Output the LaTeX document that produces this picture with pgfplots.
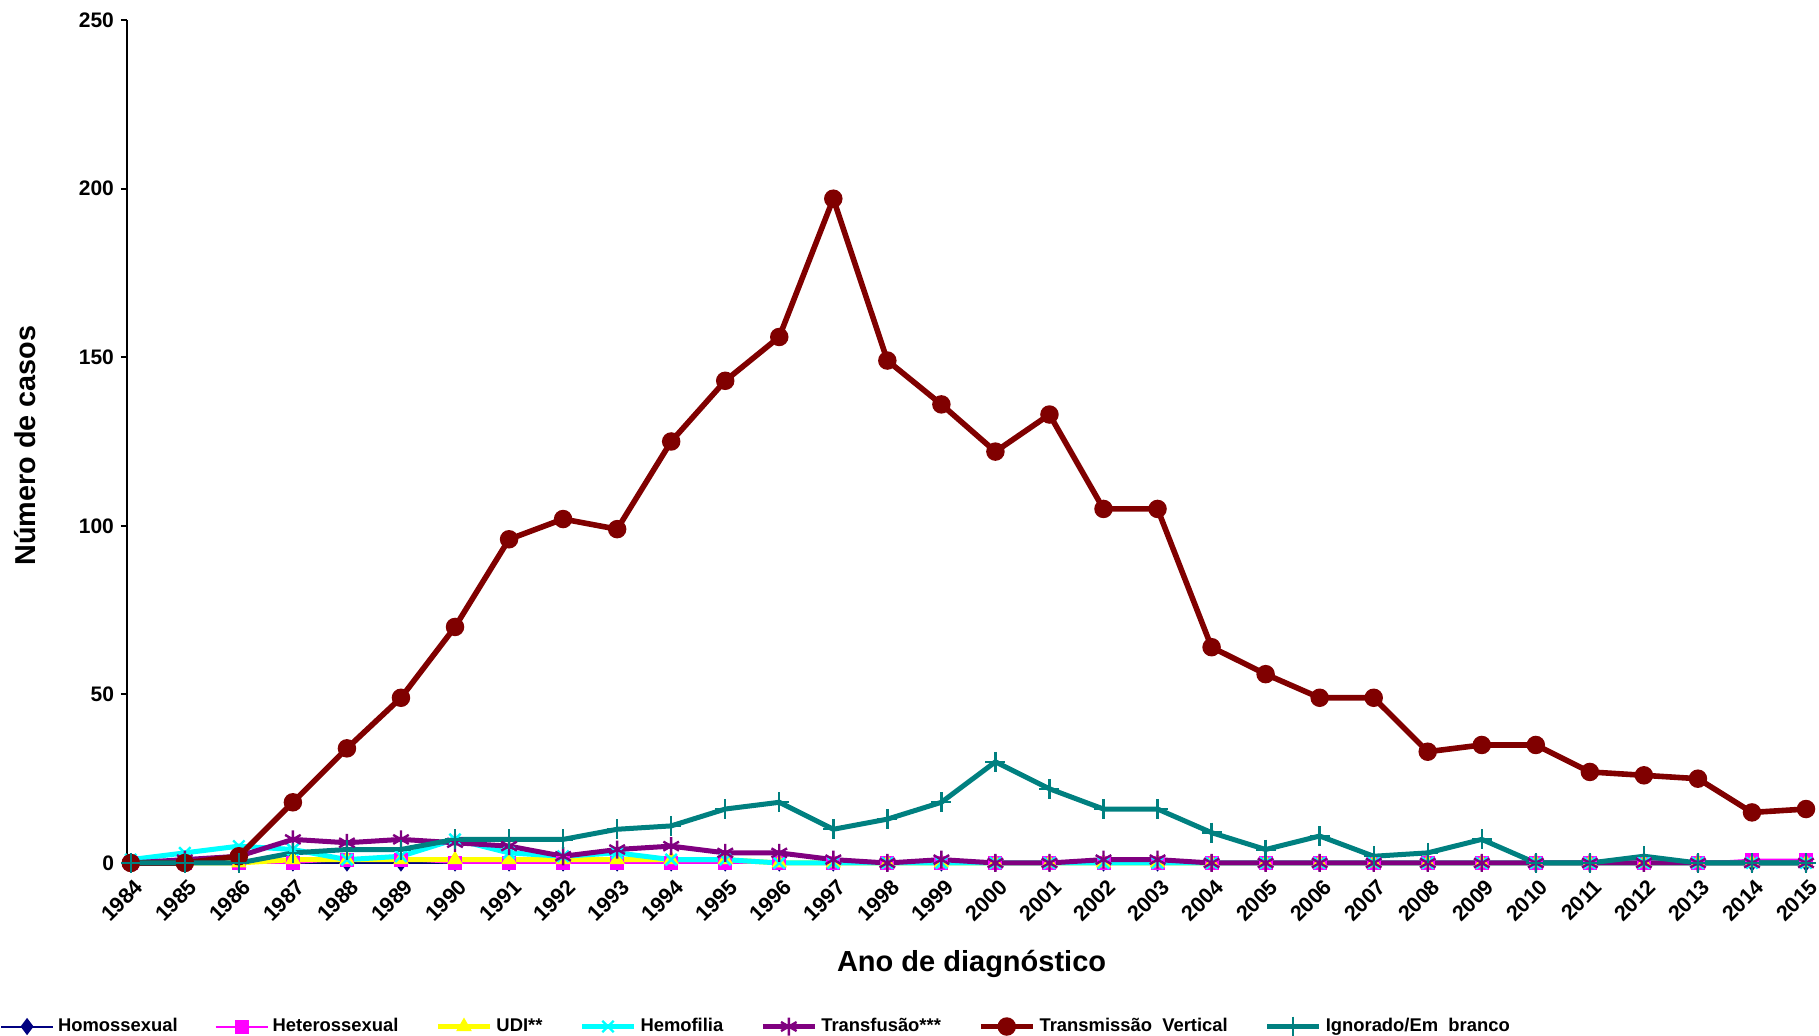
\documentclass[border=0pt]{standalone}
\usepackage{pgfplots}
\pgfplotsset{compat=1.18}
\usepackage{pgfplotstable}
\usepackage{fontspec}
\setmainfont{Liberation Sans}
\definecolor{cNavy}{HTML}{000080}
\definecolor{cMag}{HTML}{FF00FF}
\definecolor{cYel}{HTML}{FFFF00}
\definecolor{cCya}{HTML}{00FFFF}
\definecolor{cPur}{HTML}{800080}
\definecolor{cRed}{HTML}{800000}
\definecolor{cTeal}{HTML}{008080}
\pgfplotstableread{
year homo hetero udi hemo transf vert ign
1984 0 0 0 1 0 0 0
1985 0 0 0 3 1 0 0
1986 0 0 0 5 2 2 0
1987 0 0 1 4 7 18 3
1988 0 1 1 1 6 34 4
1989 0 1 1 2 7 49 4
1990 0 0 1 7 6 70 7
1991 0 0 1 3 5 96 7
1992 0 0 1 2 2 102 7
1993 0 0 1 3 4 99 10
1994 0 0 1 1 5 125 11
1995 0 0 1 1 3 143 16
1996 0 0 0 0 3 156 18
1997 0 0 0 0 1 197 10
1998 0 0 0 0 0 149 13
1999 0 0 0 0 1 136 18
2000 0 0 0 0 0 122 30
2001 0 0 0 0 0 133 22
2002 0 0 0 0 1 105 16
2003 0 0 0 0 1 105 16
2004 0 0 0 0 0 64 9
2005 0 0 0 0 0 56 4
2006 0 0 0 0 0 49 8
2007 0 0 0 0 0 49 2
2008 0 0 0 0 0 33 3
2009 0 0 0 0 0 35 7
2010 0 0 0 0 0 35 0
2011 0 0 0 0 0 27 0
2012 0 0 0 0 0 26 2
2013 0 0 0 0 0 25 0
2014 0 1 0 0 0 15 0
2015 0 1 0 0 0 16 0
}\data
\begin{document}
\begin{tikzpicture}
\useasboundingbox (-63.5pt,-86.5pt) rectangle (846pt,431.5pt);
\begin{axis}[
  scale only axis, width=839.5pt, height=421.5pt,
  at={(0,0)}, anchor=south west,
  xmin=1983.93, xmax=2015, ymin=0, ymax=250,
  clip=false,
  axis y line*=left, axis x line*=bottom,
  x axis line style={draw=none},
  y axis line style={line width=1.2pt},
  xtick={1984,...,2015}, ytick={0,50,...,250},
  xtick style={draw=none},
  ytick style={line width=1pt, black},
  tick align=outside, major tick length=3pt,
  /pgf/number format/.cd, 1000 sep={}, assume math mode=true, /pgfplots/.cd,
  xticklabel style={rotate=45, anchor=north east, font=\bfseries\fontsize{10.8}{12}\selectfont, inner sep=1pt, yshift=-3pt, xshift=-1pt},
  yticklabel style={font=\bfseries\fontsize{10.5}{12}\selectfont},
  xlabel={Ano de diagnóstico},
  ylabel={Número de casos},
  xlabel style={font=\bfseries\fontsize{14.5}{16}\selectfont, at={(axis description cs:0.503,-0.12)}, anchor=center},
  ylabel style={font=\bfseries\fontsize{14.4}{16}\selectfont, at={(axis description cs:-0.0607,0.495)}, anchor=center},
  legend columns=7,
  legend style={draw=none, fill=none, inner sep=0pt, outer sep=0pt,
    at={(axis description cs:-0.0756,-0.194)}, anchor=west,
    font=\bfseries\fontsize{9.2}{11}\selectfont,
    /tikz/every even column/.append style={column sep=16.5pt}},
  legend image code/.code={\draw[mark repeat=2,mark phase=2,#1] plot coordinates {(0pt,0pt) (13pt,0pt) (26pt,0pt)};},
]
\addplot[color=cNavy, line width=1pt, mark=diamond*, mark size=3.5pt, mark options={solid}] table[x=year,y=homo]{\data};
\addlegendentry{Homossexual}
\addplot[color=cMag, line width=1pt, mark=square*, mark size=3pt, mark options={solid}] table[x=year,y=hetero]{\data};
\addlegendentry{Heterossexual}
\addplot[color=cYel, line width=2.5pt, mark=triangle*, mark size=4pt, mark options={solid, line width=0.5pt}] table[x=year,y=udi]{\data};
\addlegendentry{UDI**}
\addplot[color=cCya, line width=2.5pt, mark=x, mark size=4pt, mark options={solid, line width=1.2pt}] table[x=year,y=hemo]{\data};
\addlegendentry{Hemofilia}
\addplot[color=cPur, line width=2.5pt, mark=asterisk, mark size=4.5pt, mark options={solid, line width=1.2pt}] table[x=year,y=transf]{\data};
\addlegendentry{Transfusão***}
\addplot[color=cRed, line width=2.8pt, mark=*, mark size=3.2pt, mark options={solid}] table[x=year,y=vert]{\data};
\addlegendentry{Transmissão\ \ Vertical}
\addplot[color=cTeal, line width=2.5pt, mark=+, mark size=5pt, mark options={solid, line width=1.2pt}] table[x=year,y=ign]{\data};
\addlegendentry{Ignorado/Em\ \ branco}
\end{axis}
\end{tikzpicture}
\end{document}
